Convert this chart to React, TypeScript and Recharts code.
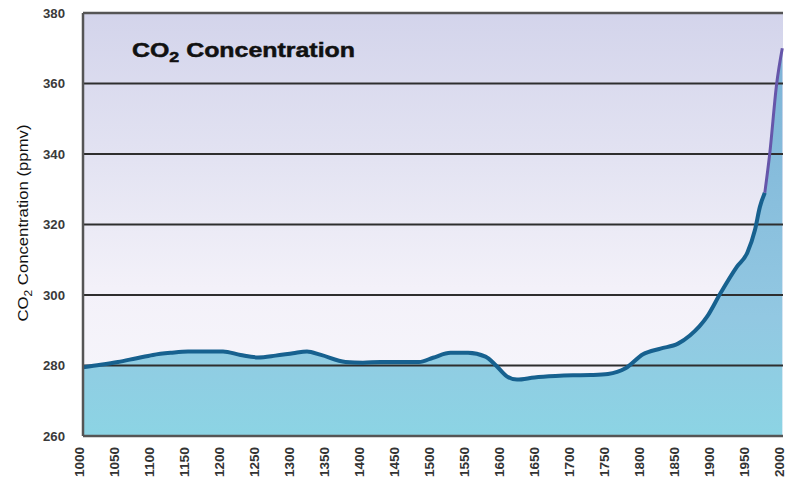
import {
  ComposedChart,
  Area,
  Line,
  XAxis,
  YAxis,
  CartesianGrid,
  ReferenceLine,
} from "recharts";

// Ice-core record (blue) up to the mid-1970s
const ICE_YEARS = [
  1000, 1025, 1050, 1075, 1100, 1125, 1150, 1175, 1200, 1225, 1250, 1275, 1300, 1320, 1340,
  1375, 1400, 1425, 1450, 1480, 1500, 1525, 1550, 1575, 1590, 1605, 1620, 1645, 1675, 1700,
  1725, 1750, 1775, 1800, 1825, 1850, 1867, 1892, 1910, 1934, 1949, 1960, 1967, 1974,
];
const ICE_PPM = [
  279.5, 280.2, 281, 282, 283, 283.6, 284, 284, 284, 283, 282.3, 282.8, 283.5, 284, 283,
  281, 280.8, 281, 281, 281, 282.2, 283.6, 283.6, 282.5, 280, 277, 276, 276.6, 277, 277.2,
  277.3, 277.6, 279.2, 283.2, 284.8, 286.2, 288.5, 294, 300.3, 308, 312, 318.5, 325, 329,
];

// Direct atmospheric measurements (purple)
const MODERN_YEARS = [1974, 1981, 1991, 1999];
const MODERN_PPM = [329, 340, 360, 370];

const TICK_YEARS = [
  1000, 1050, 1100, 1150, 1200, 1250, 1300, 1350, 1400, 1450, 1500,
  1550, 1600, 1650, 1700, 1750, 1800, 1850, 1900, 1950, 2000,
];
const PPM_TICKS = [260, 280, 300, 320, 340, 360, 380];
const GRID_LEVELS = [280, 300, 320, 340, 360];

const rows = [
  ...ICE_YEARS.map((year, i) => ({
    year,
    level: ICE_PPM[i],
    ice: ICE_PPM[i],
    modern: year === MODERN_YEARS[0] ? MODERN_PPM[0] : undefined,
  })),
  ...MODERN_YEARS.slice(1).map((year, i) => ({
    year,
    level: MODERN_PPM[i + 1],
    ice: undefined,
    modern: MODERN_PPM[i + 1],
  })),
];

const FONT = "'Liberation Sans', Arial, Helvetica, sans-serif";

function YearTick(props: any) {
  const { x, y, payload } = props;
  return (
    <text
      transform={`translate(${x - 4},${y + 11}) rotate(-90)`}
      textAnchor="end"
      dominantBaseline="central"
      fontFamily={FONT}
      fontWeight="bold"
      fontSize={13}
      fill="#333"
      textLength={30}
      lengthAdjust="spacingAndGlyphs"
    >
      {payload.value}
    </text>
  );
}

function PpmTick(props: any) {
  const { x, y, payload } = props;
  return (
    <text
      x={x}
      y={y}
      textAnchor="end"
      dominantBaseline="central"
      fontFamily={FONT}
      fontWeight="bold"
      fontSize={13}
      fill="#3a3a3a"
      textLength={22}
      lengthAdjust="spacingAndGlyphs"
    >
      {payload.value}
    </text>
  );
}

export default function App() {
  return (
    <div style={{ position: "absolute", left: 0, top: 0, width: 786, height: 481, background: "#fff" }}>
      <ComposedChart
        width={786}
        height={481}
        data={rows}
        margin={{ top: 13, right: 3, bottom: 0, left: 0 }}
      >
        <defs>
          <linearGradient id="plotBg" x1="0" y1="0" x2="0" y2="1">
            <stop offset="0%" stopColor="#d3d4eb" />
            <stop offset="35%" stopColor="#e3e3f2" />
            <stop offset="65%" stopColor="#f3f1f9" />
            <stop offset="100%" stopColor="#f8f7fc" />
          </linearGradient>
          <linearGradient id="areaFill" gradientUnits="userSpaceOnUse" x1="0" y1="40" x2="0" y2="436">
            <stop offset="0%" stopColor="#7cb2d6" />
            <stop offset="70%" stopColor="#92c8e2" />
            <stop offset="100%" stopColor="#8cd4e4" />
          </linearGradient>
        </defs>
        <CartesianGrid horizontal={false} vertical={false} fill="url(#plotBg)" stroke="none" />
        <XAxis
          dataKey="year"
          type="number"
          domain={[1000, 2000]}
          ticks={TICK_YEARS}
          interval={0}
          height={45}
          tickSize={0}
          tickMargin={0}
          tickLine={false}
          axisLine={{ stroke: "#555", strokeWidth: 2.5 }}
          tick={<YearTick />}
        />
        <YAxis
          type="number"
          domain={[260, 380]}
          ticks={PPM_TICKS}
          interval={0}
          width={83}
          tickSize={0}
          tickMargin={18}
          tickLine={false}
          axisLine={{ stroke: "#555", strokeWidth: 2.5 }}
          tick={<PpmTick />}
        />
        <Area
          type="monotone"
          dataKey="level"
          baseValue={260}
          stroke="none"
          fill="url(#areaFill)"
          fillOpacity={1}
          isAnimationActive={false}
          dot={false}
          activeDot={false}
        />
        {GRID_LEVELS.map((v) => (
          <ReferenceLine key={v} y={v} stroke="#2e2e2e" strokeWidth={1.8} ifOverflow="visible" />
        ))}
        <ReferenceLine y={380} stroke="#555" strokeWidth={2.5} ifOverflow="visible" />
        <Line
          type="monotone"
          dataKey="ice"
          stroke="#17618f"
          strokeWidth={4}
          dot={false}
          activeDot={false}
          connectNulls={false}
          isAnimationActive={false}
        />
        <Line
          type="monotone"
          dataKey="modern"
          stroke="#6656aa"
          strokeWidth={3}
          dot={false}
          activeDot={false}
          connectNulls={false}
          isAnimationActive={false}
        />
      </ComposedChart>
      <svg
        width={786}
        height={481}
        style={{ position: "absolute", left: 0, top: 0, pointerEvents: "none" }}
      >
        <text
          x={132}
          y={57}
          fontFamily={FONT}
          fontWeight="bold"
          fontSize={21}
          fill="#111"
          stroke="#111"
          strokeWidth={0.5}
          textLength={223}
          lengthAdjust="spacingAndGlyphs"
        >
          CO
          <tspan fontSize={15} dy={5}>2</tspan>
          <tspan dy={-5}> Concentration</tspan>
        </text>
        <text
          transform="translate(28,223) rotate(-90)"
          textAnchor="middle"
          fontFamily={FONT}
          fontSize={15.5}
          fill="#111"
          textLength={197}
          lengthAdjust="spacingAndGlyphs"
        >
          CO
          <tspan fontSize={11} dy={4}>2</tspan>
          <tspan dy={-4}> Concentration (ppmv)</tspan>
        </text>
      </svg>
    </div>
  );
}
